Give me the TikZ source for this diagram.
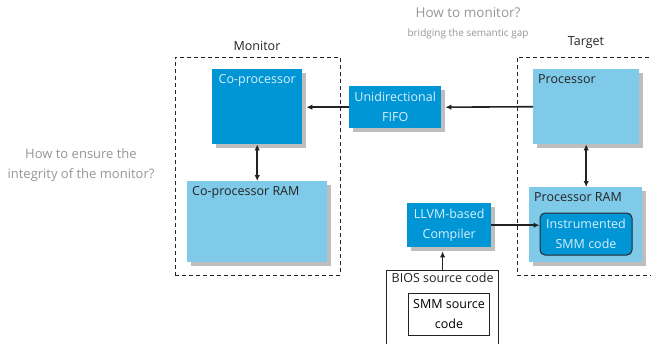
\documentclass[tikz,border=0pt]{standalone}
\usepackage{fontspec}
\setmainfont{Open Sans}
\usetikzlibrary{arrows.meta,positioning,shadows}
\definecolor{hpdark}{RGB}{0,150,214}
\definecolor{hplight}{RGB}{128,202,233}
\definecolor{hpshadow}{RGB}{190,190,190}
\definecolor{hpask}{RGB}{150,150,150}
\definecolor{hptext}{RGB}{35,35,35}
\definecolor{hppale}{RGB}{215,240,252}

\begin{document}
\begin{tikzpicture}[x=1pt, y=-1pt, >={Latex[length=6pt,width=5.5pt]}, font=\fontsize{12.5}{20}\selectfont]
  \tikzstyle{shade}=[drop shadow={shadow xshift=4pt, shadow yshift=-4pt, fill=hpshadow, opacity=1}]
  \tikzstyle{darkbox}=[shade, fill=hpdark, text=hppale, anchor=north west, inner sep=0pt, align=center]
  \tikzstyle{lightbox}=[shade, fill=hplight, anchor=north west, inner sep=0pt]
  \tikzstyle{tag}=[anchor=north west, text=hptext, inner sep=5pt]
  \tikzstyle{group}=[draw=hptext, dash pattern=on 4pt off 3pt, line width=0.9pt, anchor=north west, inner sep=0pt]
  \tikzstyle{plain}=[draw=hptext, line width=1.2pt, fill=white, anchor=north west, inner sep=0pt, align=center]
  \tikzstyle{ask}=[text=hpask, align=center]
  \tikzstyle{link}=[line width=1.6pt, draw=hptext]

  \useasboundingbox (0,0) rectangle (651,343);
  \clip (0,0) rectangle (651,343);

  % the two sides
  \node[group, minimum width=165, minimum height=218] (monitor) at (175,57) {};
  \node[group, minimum width=160, minimum height=218] (target) at (517,57) {};
  \node[text=hptext] (monitortag) at (257,46) {Monitor};
  \node[text=hptext] (targettag) at (586,43) {Target};

  \node[darkbox, minimum width=90, minimum height=75,
        label={[anchor=north, text=hppale, inner sep=5pt]north:Co-processor}] (coproc) at (212,69) {};
  \node[lightbox, minimum width=140, minimum height=81,
        label={[tag]north west:Co-processor RAM}] (coram) at (187,181) {};
  \node[darkbox, minimum width=92, minimum height=42] (fifo) at (349,86) {Unidirectional\\FIFO};
  \node[lightbox, minimum width=106, minimum height=75,
        label={[tag]north west:Processor}] (proc) at (533,69) {};
  \node[lightbox, minimum width=113, minimum height=75,
        label={[tag]north west:Processor RAM}] (pram) at (529,187) {};
  \node[fill=hpdark, draw=black!85, line width=1pt, rounded corners=5pt, text=hppale, align=center,
        inner sep=0pt, minimum width=92, minimum height=42] (smm) at (586,234) {Instrumented\\SMM code};
  \node[darkbox, minimum width=84, minimum height=44] (llvm) at (407,203) {LLVM-based\\Compiler};

  \node[plain, minimum width=112, minimum height=80,
        label={[anchor=north, text=hptext, inner sep=3pt]north:BIOS source code}] (bios) at (386,270) {};
  \node[plain, line width=1pt, minimum width=81, minimum height=42] (smmsrc) at (408,293) {SMM source\\code};

  \draw[link,->] (fifo.west) -- ([xshift=4pt]fifo.west -| coproc.east);
  \draw[link,->] (proc.west) -- ([xshift=4pt]fifo.east);
  \draw[link,<->] (coproc.south) -- (coproc.south |- coram.north);
  \draw[link,<->] (proc.south) -- (proc.south |- pram.north);
  \draw[link,->] (llvm.east) -- (smm.west |- llvm.east);
  \draw[link,->] (bios.north) -- ([yshift=-4pt]bios.north |- llvm.south);

  % open questions
  \node[ask, font=\fontsize{13.5}{20}\selectfont] (howmon) at (468,13) {How to monitor?};
  \node[ask, font=\fontsize{10}{12}\selectfont] (gap) at (468,34) {bridging the semantic gap};
  \node[ask, font=\fontsize{13}{20.5}\selectfont] (integrity) at (81,165) {How to ensure the\\integrity of the monitor?};
\end{tikzpicture}
\end{document}
